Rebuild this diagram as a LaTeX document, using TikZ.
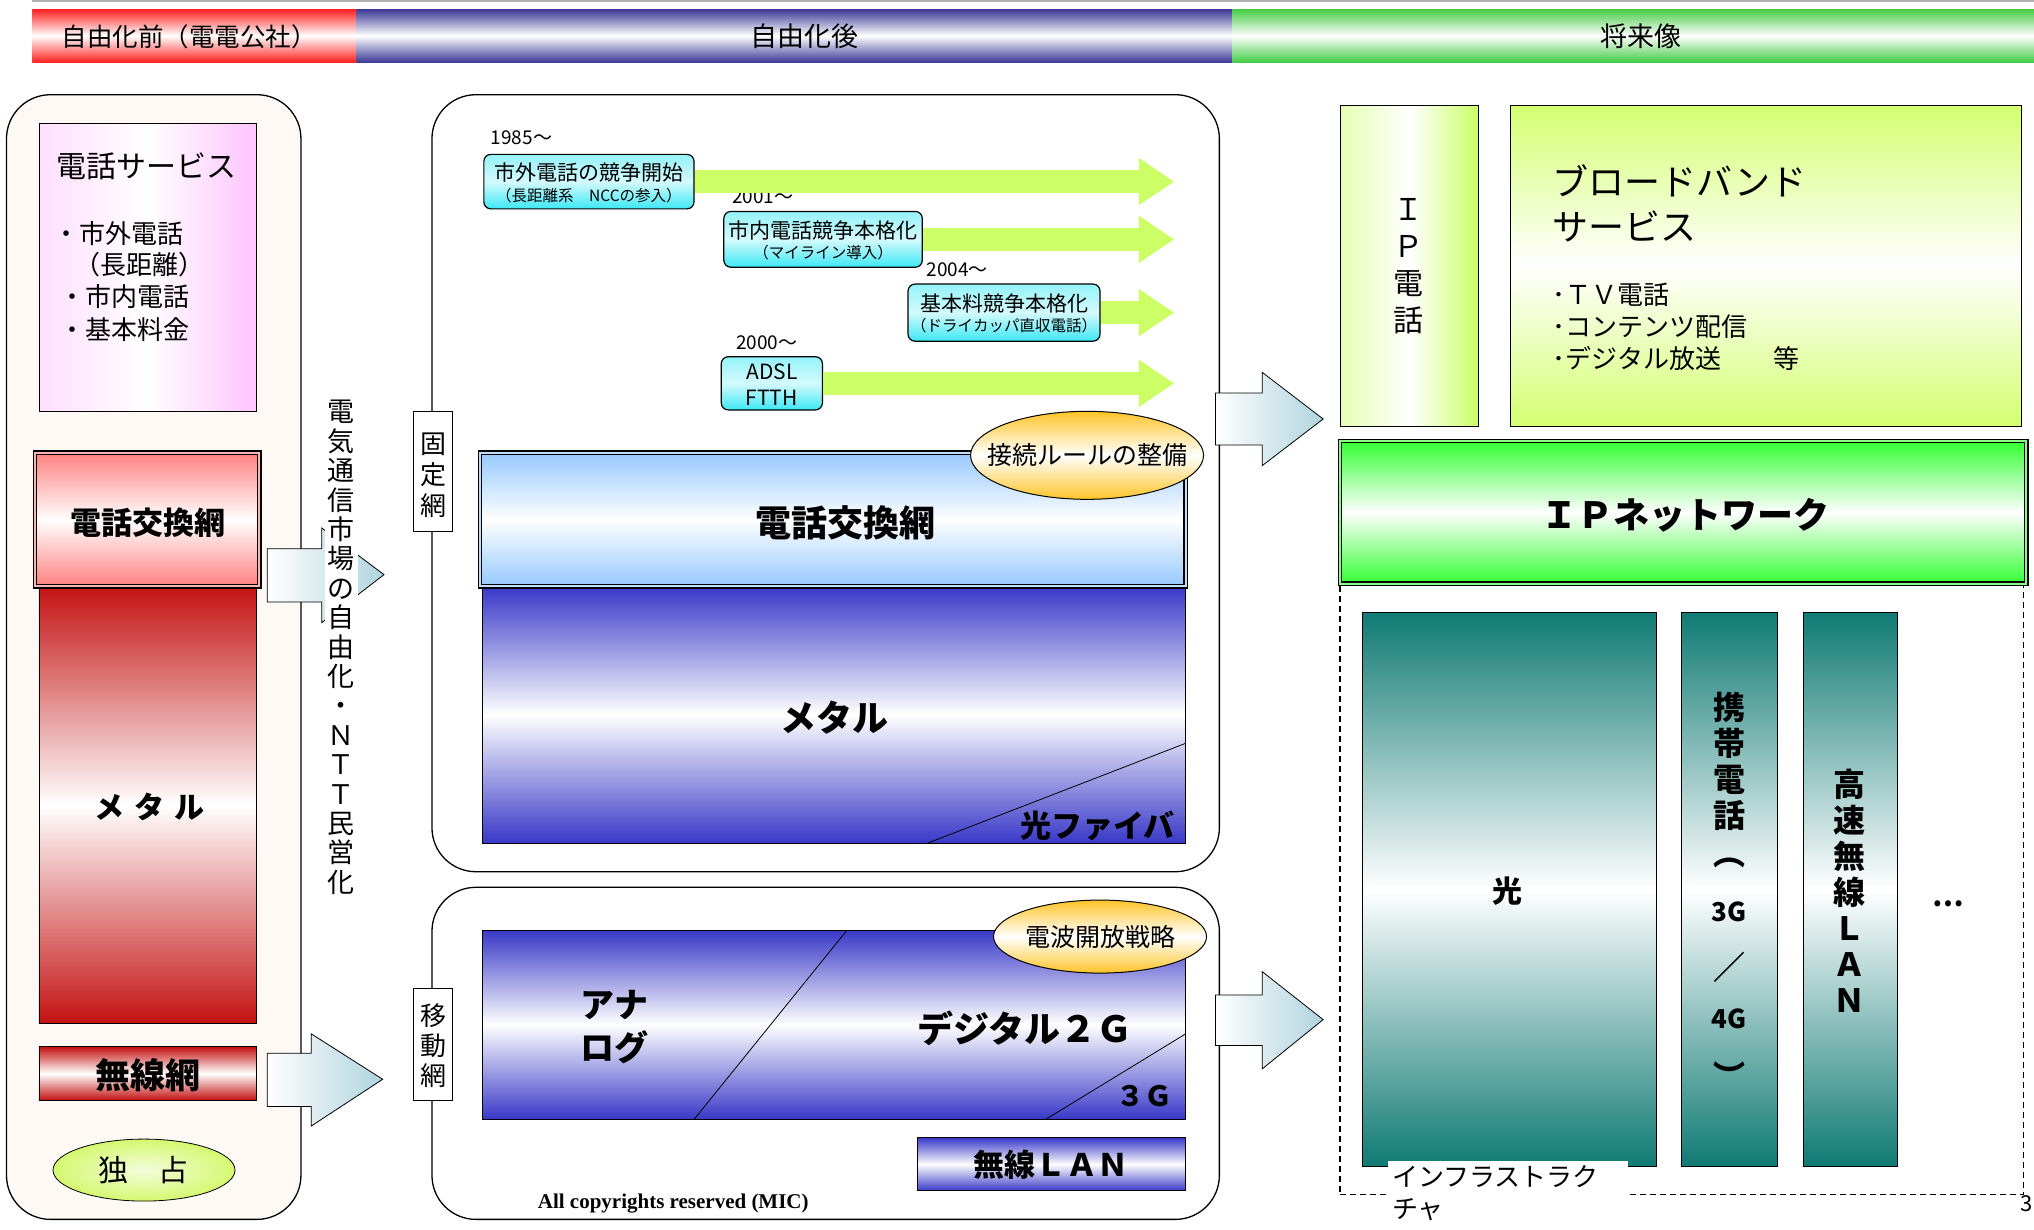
\documentclass[tikz,border=0pt]{standalone}
\usepackage{fontspec}
\setmainfont{Noto Sans CJK JP}
\newfontfamily\tms{Liberation Serif}
\usetikzlibrary{arrows.meta,shapes.geometric,fit,calc}
\newcommand\fsz[2]{\fontsize{#1}{#2}\selectfont}
\definecolor{banRed}{RGB}{255,32,32}
\definecolor{banBlue}{RGB}{60,56,150}
\definecolor{banGreen}{RGB}{68,204,68}
\definecolor{svcPink}{RGB}{255,196,255}
\definecolor{swRed}{RGB}{255,128,128}
\definecolor{metRed}{RGB}{196,18,18}
\definecolor{monoGreen}{RGB}{212,248,112}
\definecolor{tlCyan}{RGB}{60,232,245}
\definecolor{tlGreen}{RGB}{204,255,102}
\definecolor{swBlue}{RGB}{150,200,255}
\definecolor{metBlue}{RGB}{56,56,200}
\definecolor{ruleOrange}{RGB}{255,196,40}
\definecolor{arrBlue}{RGB}{176,212,222}
\definecolor{ipYG}{RGB}{204,255,102}
\definecolor{bbYG}{RGB}{212,255,112}
\definecolor{ipGreen}{RGB}{51,255,51}
\definecolor{infTeal}{RGB}{16,122,116}
\definecolor{panelTint}{RGB}{255,249,246}
\begin{document}
\begin{tikzpicture}[x=1.2972pt,y=-1.2972pt,
  vgrad/.style={top color=#1, bottom color=#1, middle color=white},
  hgrad/.style={left color=#1!50, right color=#1, middle color=white},
  box/.style={draw, line width=0.8pt, inner sep=0pt},
  panel/.style={draw, line width=1.3pt, rounded corners=44pt, inner sep=0pt},
  dbox/.style={draw, line width=1.4pt, double=#1, double distance=2pt, inner sep=0pt},
  tlbox/.style={draw, line width=1.2pt, rounded corners=7pt, inner sep=0pt, top color=tlCyan!55, bottom color=tlCyan, middle color=tlCyan!22},
  txt/.style={inner sep=0pt},
  barrow/.style={draw, line width=0.8pt, line join=miter, left color=white, right color=arrBlue},
  tlarr/.style={draw=tlGreen, line width=23pt, -{Triangle[length=35pt,width=47pt,line width=0pt]}},
  vlabel/.style={box, fill=white}
]
\useasboundingbox (0,0) rectangle (1568,948);
% top rule and banner
\draw[gray!60, line width=2pt] (25,1) -- (1568,1);
\node[fit={(25,7)(275,48)}, inner sep=0pt, vgrad=banRed] (banA) {};
\node[fit={(275,7)(950,48)}, inner sep=0pt, vgrad=banBlue] (banB) {};
\node[fit={(950,7)(1568,48)}, inner sep=0pt, vgrad=banGreen] (banC) {};
\node[txt, font=\fsz{25.5}{28}] (banAT) at (146,28) {自由化前（電電公社）};
\node[txt, font=\fsz{27}{28}] (banBT) at (620,28) {自由化後};
\node[txt, font=\fsz{27}{28}] (banCT) at (1265,28) {将来像};

% left panel
\node[panel, fill=panelTint, fit={(5,73)(232,940)}] (lp) {};
\node[box, left color=svcPink!55, right color=svcPink, middle color=white, fit={(30,95)(198,317)}] (svc) {};
\node[txt, font=\fsz{30}{34}] (svcT) at (113,128) {電話サービス};
\node[txt, anchor=west, font=\fsz{26}{30}] (svc1) at (41,180) {・市外電話};
\node[txt, anchor=west, font=\fsz{26}{30}] (svc2) at (57,204) {（長距離）};
\node[txt, anchor=west, font=\fsz{26}{30}] (svc3) at (46,229) {・市内電話};
\node[txt, anchor=west, font=\fsz{26}{30}] (svc4) at (46,254) {・基本料金};
\node[box, vgrad=metRed, fit={(30,452)(198,789)}] (lmet) {};
\node[txt, font=\bfseries\fsz{30}{34}] (lmetT) at (115,622) {メ\hspace{10pt}タ\hspace{10pt}ル};
\node[dbox=swRed!60, vgrad=swRed, fit={(27,349)(200,452)}] (lsw) {};
\node[txt, font=\bfseries\fsz{31}{34}] (lswT) at (114,403) {電話交換網};
\node[box, vgrad=metRed, fit={(30,807)(198,848)}] (lwl) {};
\node[txt, font=\bfseries\fsz{35}{38}] (lwlT) at (114,829) {無線網};
\node[ellipse, draw, line width=0.8pt, minimum width=182pt, minimum height=62pt, inner color=monoGreen!25, outer color=monoGreen] (mono) at (111,902) {};
\node[txt, font=\fsz{30}{34}] (monoT) at (mono.center) {独　占};

% middle top panel
\node[panel, fill=white, fit={(333,73)(940,672)}] (fp) {};
\node[vlabel, fit={(319,317)(349,410)}] (fpl) {};
\node[txt, align=center, font=\fsz{26}{31}] (fplT) at (334,366) {固\\定\\網};
\node[txt, font=\fsz{19}{20}] (y1) at (402,106) {1985～};
\node[txt, font=\fsz{19}{20}] (y2) at (588,152) {2001～};
\node[txt, font=\fsz{19}{20}] (y3) at (738,208) {2004～};
\node[txt, font=\fsz{19}{20}] (y4) at (591,264) {2000～};
\node[tlbox, fit={(373,119)(535,161)}] (b1) {};
\node[tlbox, fit={(558,163)(711,206)}] (b2) {};
\node[tlbox, fit={(700,219)(848,263)}] (b3) {};
\node[tlbox, fit={(556,275)(634,316)}] (b4) {};
\node[txt, font=\fsz{21}{24}] (b1a) at (454,133) {市外電話の競争開始};
\node[txt, font=\fsz{15.5}{17}] (b1b) at (454,151) {（長距離系　NCCの参入）};
\node[txt, font=\fsz{21}{24}] (b2a) at (634.5,178) {市内電話競争本格化};
\node[txt, font=\fsz{15.5}{17}] (b2b) at (634.5,195) {（マイライン導入）};
\node[txt, font=\fsz{21}{24}] (b3a) at (774,234) {基本料競争本格化};
\node[txt, font=\fsz{15.5}{17}] (b3b) at (774,251) {（ドライカッパ直収電話）};
\node[txt, font=\fsz{21}{24}] (b4a) at (595,287) {ADSL};
\node[txt, font=\fsz{21}{24}] (b4b) at (595,307) {FTTH};
\coordinate (xE) at (905,0);
\draw[tlarr] (b1.east) -- (b1.east -| xE);
\draw[tlarr] (b2.east) -- (b2.east -| xE);
\draw[tlarr] (b3.east) -- (b3.east -| xE);
\draw[tlarr] (b4.east) -- (b4.east -| xE);
\node[box, vgrad=metBlue, fit={(372,452)(914,650)}] (mmet) {};
\node[txt, font=\bfseries\fsz{36}{40}] (mmetT) at (643,553) {メタル};
\draw[line width=0.8pt] (715,650) -- (914,573);
\node[txt, font=\bfseries\fsz{31}{34}] (fib) at (846,637) {光ファイバ};
\node[dbox=swBlue!60, vgrad=swBlue, fit={(370,349)(914,452)}] (msw) {};
\node[txt, font=\bfseries\fsz{36}{40}] (mswT) at (652,403) {電話交換網};
\node[ellipse, draw, line width=1pt, minimum width=233pt, minimum height=88pt, inner sep=0pt, vgrad=ruleOrange] (rule) at (838,351) {};
\node[txt, font=\fsz{25}{28}] (ruleT) at (rule.center) {接続ルールの整備};

% middle bottom panel
\node[panel, fill=white, fit={(333,684)(940,940)}] (mp) {};
\node[vlabel, fit={(319,762)(349,848)}] (mpl) {};
\node[txt, align=center, font=\fsz{26}{30}] (mplT) at (334,806) {移\\動\\網};
\node[box, vgrad=metBlue, fit={(372,717)(914,863)}] (mob) {};
\draw[line width=0.8pt] (653,717) -- (535,863);
\draw[line width=0.8pt] (914,797) -- (806,863);
\node[txt, align=left, font=\bfseries\fsz{34}{43}] (ana) at (474,792) {アナ\\ログ};
\node[txt, font=\bfseries\fsz{36}{40}] (dig) at (790,793) {デジタル２Ｇ};
\node[txt, font=\bfseries\fsz{28}{32}] (g3) at (882,845) {３Ｇ};
\node[ellipse, draw, line width=1pt, minimum width=213pt, minimum height=73pt, inner sep=0pt, vgrad=ruleOrange] (radio) at (848,722) {};
\node[txt, font=\fsz{25}{28}] (radioT) at (radio.center) {電波開放戦略};
\node[box, vgrad=metBlue, fit={(707,877)(914,918)}] (wlan) {};
\node[txt, font=\bfseries\fsz{31}{34}] (wlanT) at (810,898) {無線ＬＡＮ};
\node[txt, font=\tms\bfseries\fsz{21}{23}] (copy) at (519,928) {All copyrights reserved (MIC)};

% block arrows
\draw[barrow] (206,423) -- (248,423) -- (248,407) -- (296,443) -- (248,480) -- (248,464) -- (206,464) -- cycle;
\draw[barrow] (206,812) -- (240,812) -- (240,797) -- (295,832) -- (240,868) -- (240,853) -- (206,853) -- cycle;
\draw[barrow] (937,303) -- (973,303) -- (973,287) -- (1020,323) -- (973,359) -- (973,343) -- (937,343) -- cycle;
\draw[barrow] (937,767) -- (973,767) -- (973,749) -- (1020,786) -- (973,824) -- (973,806) -- (937,806) -- cycle;
\node[fill=white, inner xsep=3pt, inner ysep=2pt, align=center, font=\fsz{27}{29.4}] (lib) at (263,499) {電\\気\\通\\信\\市\\場\\の\\自\\由\\化\\・\\Ｎ\\Ｔ\\Ｔ\\民\\営\\化};

% right side
\node[box, hgrad=ipYG, fit={(1033,81)(1140,329)}] (ipt) {};
\node[txt, align=center, font=\fsz{30}{37}] (iptT) at (1086,205) {Ｉ\\Ｐ\\電\\話};
\node[box, vgrad=bbYG, fit={(1164,81)(1558,329)}] (bb) {};
\node[txt, anchor=west, align=left, font=\fsz{36}{45}] (bbT) at (1197,157) {ブロードバンド\\サービス};
\node[txt, anchor=west, align=left, font=\fsz{26}{32}] (bbL) at (1197,252) {･ＴＶ電話\\･コンテンツ配信\\･デジタル放送　　等};
\node[draw, dash pattern=on 6pt off 4pt, line width=1.3pt, inner sep=0pt, fit={(1033,450)(1560,921)}] (infra) {};
\node[dbox=ipGreen!60, vgrad=ipGreen, fit={(1033,340)(1562,450)}] (ipn) {};
\node[txt, font=\bfseries\fsz{36}{40}] (ipnT) at (1299,397) {ＩＰネットワーク};
\node[box, vgrad=infTeal, fit={(1050,472)(1277,899)}] (hikari) {};
\node[txt, font=\bfseries\fsz{30}{34}] (hikariT) at (1162,687) {光};
\node[box, vgrad=infTeal, fit={(1296,472)(1370,899)}] (keitai) {};
\node[txt, align=center, font=\bfseries\fsz{32}{36}] (keitaiT) at (1333,686) {携\\帯\\電\\話\\[2pt]︵\\[20pt]{\fsz{26}{36}3G}\\[22pt]／\\[13pt]{\fsz{26}{36}4G}\\[24pt]︶};
\node[box, vgrad=infTeal, fit={(1390,472)(1463,899)}] (kosoku) {};
\node[txt, align=center, font=\bfseries\fsz{32}{36}] (kosokuT) at (1426,687) {高\\速\\無\\線\\Ｌ\\Ａ\\Ｎ};
\node[txt, font=\bfseries\fsz{28}{30}] (dots) at (1502,697) {…};
\node[fill=white, anchor=north west, inner sep=4pt, text width=232pt, align=left, font=\fsz{26}{32}] (infL) at (1070,895) {インフラストラク\\チャ};
\node[txt, anchor=east, font=\fsz{22}{24}] (pg) at (1567,928) {3};
\end{tikzpicture}
\end{document}
